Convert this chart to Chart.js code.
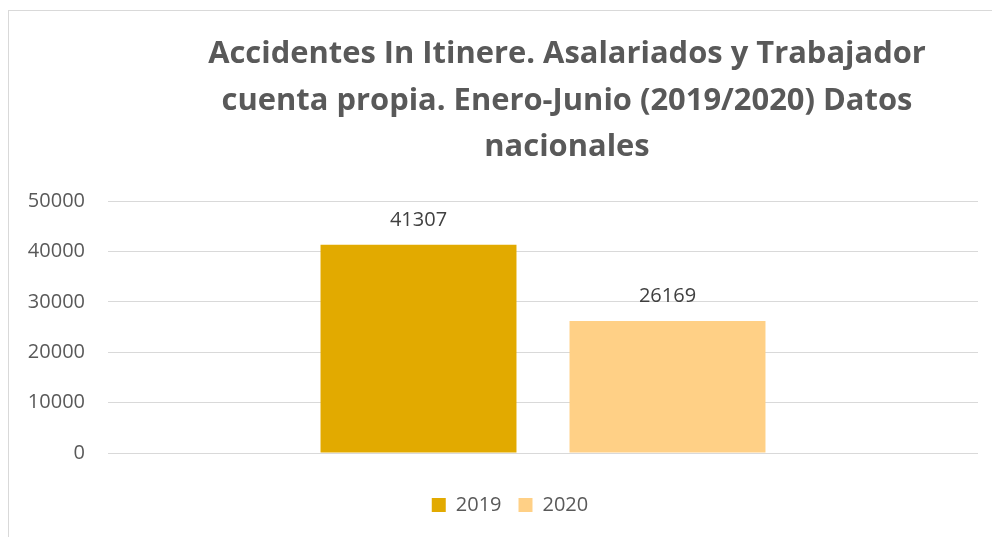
<!DOCTYPE html>
<html>
<head>
<meta charset="utf-8">
<script src="https://cdn.jsdelivr.net/npm/chart.js@4"></script>
<style>
  html, body { margin: 0; padding: 0; background: #fff; overflow: hidden; }
  #wrap { position: absolute; left: 8px; top: 10px; width: 1116px; height: 540px;
          border-left: 1px solid #d9d9d9; border-top: 1px solid #d9d9d9; }
</style>
</head>
<body>
<div id="wrap"><canvas id="accChart"></canvas></div>
<script>
const categories = [""];
const seriesNames = ["2019", "2020"];
const seriesValues = [[41307], [26169]];
const seriesColors = ["#e2aa00", "#ffd086"];
const titleLines = [
  "Accidentes In Itinere. Asalariados y Trabajador",
  "cuenta propia. Enero-Junio (2019/2020) Datos",
  "nacionales"
];

// fit the title font to the width of the first line in the picture
const mctx = document.createElement("canvas").getContext("2d");
mctx.font = 'bold 100px "Open Sans"';
const titleSize = Math.round(100 * 717 / mctx.measureText(titleLines[0]).width * 10) / 10;

// value labels above each bar
const valueLabels = {
  id: "valueLabels",
  afterDatasetsDraw(chart) {
    const ctx = chart.ctx;
    ctx.save();
    ctx.font = '20px "Open Sans"';
    ctx.fillStyle = "#404040";
    ctx.textAlign = "center";
    ctx.textBaseline = "middle";
    chart.data.datasets.forEach((ds, i) => {
      chart.getDatasetMeta(i).data.forEach((bar, j) => {
        ctx.fillText(ds.data[j], bar.x, bar.y - 25);
      });
    });
    ctx.restore();
  }
};

// legend sits left of the title centre in the original
const shiftLegend = {
  id: "shiftLegend",
  afterLayout(chart) {
    chart.legend.left -= 57;
    chart.legend.right -= 57;
  }
};

const data = {
  labels: categories,
  datasets: seriesNames.map((name, i) => ({
    label: name,
    data: seriesValues[i],
    backgroundColor: seriesColors[i],
    borderWidth: 0,
    categoryPercentage: 0.5724,
    barPercentage: 0.787
  }))
};

const config = {
  type: "bar",
  data: data,
  options: {
    responsive: false,
    animation: false,
    layout: { padding: { left: 0, right: 0, top: 0, bottom: 26 } },
    plugins: {
      title: {
        display: true,
        text: titleLines,
        color: "#595959",
        font: { family: "Open Sans", weight: "bold", size: titleSize, lineHeight: 46.5 / titleSize },
        padding: { top: 20, bottom: 30.5 }
      },
      legend: {
        position: "bottom",
        labels: {
          color: "#595959",
          font: { family: "Open Sans", size: 20 },
          boxWidth: 14,
          boxHeight: 14,
          padding: 17
        }
      },
      tooltip: { enabled: false }
    },
    scales: {
      x: {
        grid: { display: false },
        border: { display: false },
        ticks: { display: false },
        afterFit: s => { s.height = 25; }
      },
      y: {
        min: 0,
        max: 50000,
        ticks: {
          stepSize: 10000,
          color: "#595959",
          font: { family: "Open Sans", size: 20 },
          padding: 23,
          callback: v => String(v)
        },
        grid: { color: "#d9d9d9", lineWidth: 1, drawTicks: false },
        border: { display: false },
        afterFit: s => { s.width = 99; }
      },
      yr: {
        position: "right",
        display: true,
        grid: { display: false },
        border: { display: false },
        ticks: { display: false },
        afterFit: s => { s.width = 147; }
      }
    }
  },
  plugins: [valueLabels, shiftLegend]
};

const cv = document.getElementById("accChart");
cv.width = 1116;
cv.height = 540;
const myChart = new Chart(cv, config);
</script>
</body>
</html>
